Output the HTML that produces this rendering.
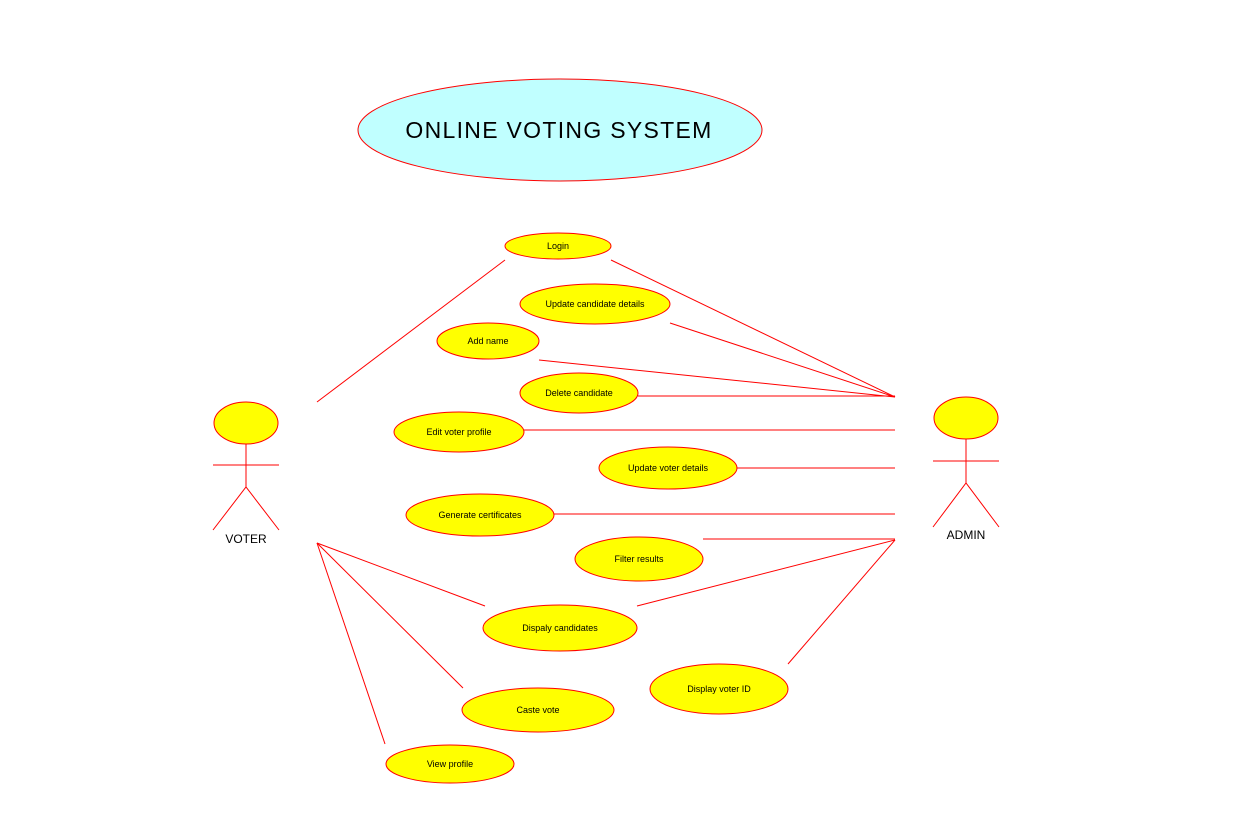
<!DOCTYPE html>
<html><head><style>html,body{margin:0;padding:0;background:#fff}svg{display:block}</style></head><body>
<svg width="1259" height="816" viewBox="0 0 1259 816" xmlns="http://www.w3.org/2000/svg" font-family="Liberation Sans, sans-serif">
<g stroke="#ff0000" stroke-width="1" fill="none">
<line x1="317" y1="402" x2="505" y2="260"/>
<line x1="611" y1="260" x2="895" y2="397"/>
<line x1="670" y1="323" x2="895" y2="397"/>
<line x1="539" y1="360" x2="895" y2="397"/>
<line x1="638" y1="396" x2="895" y2="396"/>
<line x1="524" y1="430" x2="895" y2="430"/>
<line x1="737" y1="468" x2="895" y2="468"/>
<line x1="554" y1="514" x2="895" y2="514"/>
<line x1="703" y1="539" x2="895" y2="539"/>
<line x1="637" y1="606" x2="895" y2="540"/>
<line x1="788" y1="664" x2="895" y2="540"/>
<line x1="317" y1="543" x2="485" y2="606"/>
<line x1="317" y1="543" x2="463" y2="688"/>
<line x1="317" y1="543" x2="385" y2="744"/>
</g>
<ellipse cx="560" cy="130" rx="202" ry="51" fill="#c0ffff" stroke="#ff0000"/>
<text x="559" y="138" font-size="23" letter-spacing="1.3" text-anchor="middle" fill="#000">ONLINE VOTING SYSTEM</text>
<g fill="#ffff00" stroke="#ff0000">
<ellipse cx="558" cy="246" rx="53" ry="13"/>
<ellipse cx="595" cy="304" rx="75" ry="20"/>
<ellipse cx="488" cy="341" rx="51" ry="18"/>
<ellipse cx="579" cy="393" rx="59" ry="20"/>
<ellipse cx="459" cy="432" rx="65" ry="20"/>
<ellipse cx="668" cy="468" rx="69" ry="21"/>
<ellipse cx="480" cy="515" rx="74" ry="21"/>
<ellipse cx="639" cy="559" rx="64" ry="22"/>
<ellipse cx="560" cy="628" rx="77" ry="23"/>
<ellipse cx="719" cy="689" rx="69" ry="25"/>
<ellipse cx="538" cy="710" rx="76" ry="22"/>
<ellipse cx="450" cy="764" rx="64" ry="19"/>
<ellipse cx="246" cy="423" rx="32" ry="21"/>
<ellipse cx="966" cy="418" rx="32" ry="21"/>
</g>
<g font-size="9" text-anchor="middle" fill="#000">
<text x="558" y="249">Login</text>
<text x="595" y="307">Update candidate details</text>
<text x="488" y="344">Add name</text>
<text x="579" y="396">Delete candidate</text>
<text x="459" y="435">Edit voter profile</text>
<text x="668" y="471">Update voter details</text>
<text x="480" y="518">Generate certificates</text>
<text x="639" y="562">Filter results</text>
<text x="560" y="631">Dispaly candidates</text>
<text x="719" y="692">Display voter ID</text>
<text x="538" y="713">Caste vote</text>
<text x="450" y="767">View profile</text>
</g>
<g stroke="#ff0000" fill="none">
<line x1="246" y1="444" x2="246" y2="487"/>
<line x1="213" y1="465" x2="279" y2="465"/>
<polyline points="213,530 246,487 279,530"/>
<line x1="966" y1="439" x2="966" y2="483"/>
<line x1="933" y1="461" x2="999" y2="461"/>
<polyline points="933,527 966,483 999,527"/>
</g>
<text x="246" y="543" font-size="12" text-anchor="middle" fill="#000">VOTER</text>
<text x="966" y="539" font-size="12" text-anchor="middle" fill="#000">ADMIN</text>
</svg>
</body></html>
